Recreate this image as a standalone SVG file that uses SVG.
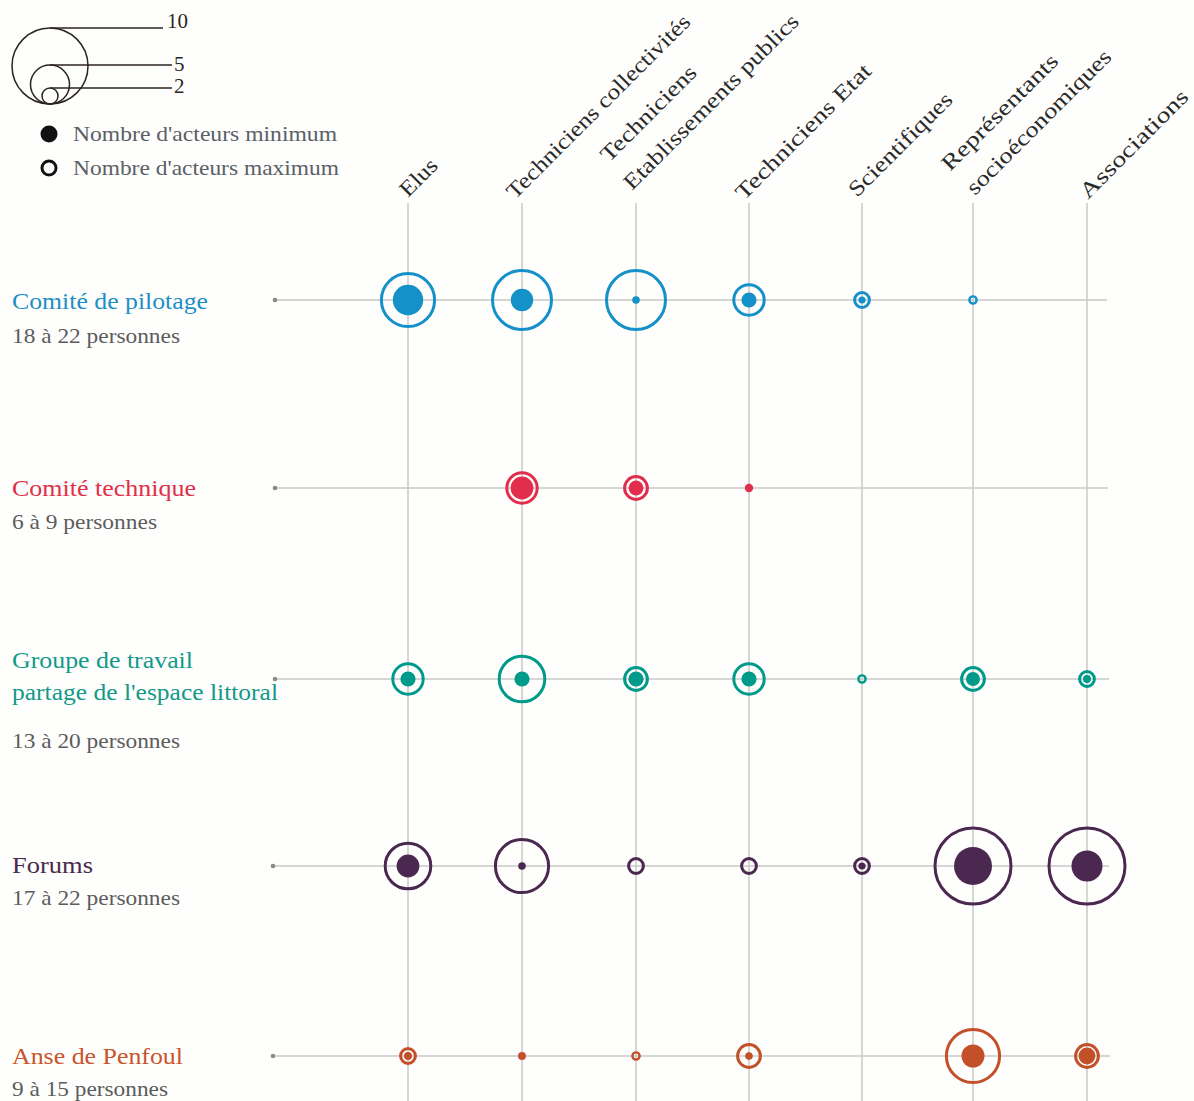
<svg xmlns="http://www.w3.org/2000/svg" width="1194" height="1101" viewBox="0 0 1194 1101">
<style>
text{font-family:"Liberation Serif","DejaVu Serif",serif;}
.hdr{font-size:22px;fill:#2a2a2a;}
.lg{font-size:21px;fill:#5a6066;}
.num{font-size:21px;fill:#2b2520;}
.ttl{font-size:23px;}
.sub{font-size:21px;fill:#5c5c5c;}
.grid line{stroke:#c9c9c9;stroke-width:1.5;}
.tick{fill:#8a8a8a;}
.ring{fill:none;stroke-width:3;}
.thin{fill:none;stroke-width:2.4;}
.blue{stroke:#1591c9;fill:#1591c9;} .blue .ring,.blue .thin{fill:none;}
.red{stroke:#e32d4d;fill:#e32d4d;} .red .ring,.red .thin{fill:none;}
.teal{stroke:#009a8a;fill:#009a8a;} .teal .ring,.teal .thin{fill:none;}
.purple{stroke:#4b2850;fill:#4b2850;} .purple .ring,.purple .thin{fill:none;}
.orange{stroke:#c4502a;fill:#c4502a;} .orange .ring,.orange .thin{fill:none;}
.dot{stroke:none;}
</style>
<rect width="1194" height="1101" fill="#fefefc"/>

<g id="legend">
  <g fill="none" stroke="#2b2520" stroke-width="1.5">
    <circle cx="50" cy="66" r="38"/>
    <circle cx="50" cy="84.5" r="19.5"/>
    <circle cx="50" cy="96" r="8"/>
    <line x1="50" y1="28" x2="163" y2="28"/>
    <line x1="50" y1="65" x2="172" y2="65"/>
    <line x1="50" y1="88" x2="172" y2="88"/>
  </g>
  <text class="num" x="167" y="28">10</text>
  <text class="num" x="174" y="71">5</text>
  <text class="num" x="174" y="93">2</text>
  <circle cx="49" cy="134" r="8.5" fill="#111"/>
  <circle cx="49" cy="168" r="7" fill="none" stroke="#111" stroke-width="3"/>
  <text class="lg" x="73" y="141" textLength="264" lengthAdjust="spacingAndGlyphs">Nombre d'acteurs minimum</text>
  <text class="lg" x="73" y="175" textLength="266" lengthAdjust="spacingAndGlyphs">Nombre d'acteurs maximum</text>
</g>

<g id="headers" class="hdr">
  <text id="h-elus" x="408" y="198" transform="rotate(-45 408 198)" textLength="44" lengthAdjust="spacingAndGlyphs">Elus</text>
  <text id="h-techcoll" x="515" y="200" transform="rotate(-45 515 200)" textLength="250" lengthAdjust="spacingAndGlyphs">Techniciens collectivités</text>
  <g id="h-techep">
    <text x="609" y="163" transform="rotate(-45 609 163)" textLength="126" lengthAdjust="spacingAndGlyphs">Techniciens</text>
    <text x="632" y="191" transform="rotate(-45 632 191)" textLength="238" lengthAdjust="spacingAndGlyphs">Etablissements publics</text>
  </g>
  <text id="h-techetat" x="744" y="201" transform="rotate(-45 744 201)" textLength="182" lengthAdjust="spacingAndGlyphs">Techniciens Etat</text>
  <text id="h-sci" x="857" y="198" transform="rotate(-45 857 198)" textLength="137" lengthAdjust="spacingAndGlyphs">Scientifiques</text>
  <g id="h-rep">
    <text x="950" y="172" transform="rotate(-45 950 172)" textLength="155" lengthAdjust="spacingAndGlyphs">Représentants</text>
    <text x="975" y="196" transform="rotate(-45 975 196)" textLength="195" lengthAdjust="spacingAndGlyphs">socioéconomiques</text>
  </g>
  <text id="h-assoc" x="1088" y="200" transform="rotate(-45 1088 200)" textLength="144" lengthAdjust="spacingAndGlyphs">Associations</text>
</g>

<g id="connectors" class="grid">
  <line x1="408" y1="203" x2="408" y2="1101"/>
  <line x1="522" y1="203" x2="522" y2="1101"/>
  <line x1="636" y1="203" x2="636" y2="1101"/>
  <line x1="749" y1="203" x2="749" y2="1101"/>
  <line x1="862" y1="203" x2="862" y2="1101"/>
  <line x1="973" y1="203" x2="973" y2="1101"/>
  <line x1="1087" y1="203" x2="1087" y2="1101"/>
  <line x1="275" y1="300" x2="1107" y2="300"/>
  <line x1="275" y1="488" x2="1108" y2="488"/>
  <line x1="275" y1="679" x2="1109" y2="679"/>
  <line x1="273" y1="866" x2="1109" y2="866"/>
  <line x1="273" y1="1056" x2="1110" y2="1056"/>
  <g class="tick">
    <circle cx="275" cy="300" r="2.3"/>
    <circle cx="275" cy="488" r="2.3"/>
    <circle cx="275" cy="679" r="2.3"/>
    <circle cx="273" cy="866" r="2.3"/>
    <circle cx="273" cy="1056" r="2.3"/>
  </g>
</g>

<g id="row-pilotage" class="blue">
  <text class="ttl dot" x="12" y="309" fill="#1d8fc6" textLength="196" lengthAdjust="spacingAndGlyphs">Comité de pilotage</text>
  <text class="sub dot" x="12" y="343" textLength="168" lengthAdjust="spacingAndGlyphs">18 à 22 personnes</text>
  <circle class="ring" cx="408" cy="300" r="26.6"/><circle class="dot" cx="408" cy="300" r="15.2"/>
  <circle class="ring" cx="522" cy="300" r="29.5"/><circle class="dot" cx="522" cy="300" r="11.2"/>
  <circle class="ring" cx="636" cy="300" r="29.5"/><circle class="dot" cx="636" cy="300" r="3.8"/>
  <circle class="ring" cx="749" cy="300" r="15.2"/><circle class="dot" cx="749" cy="300" r="7.6"/>
  <circle class="ring" cx="862" cy="300" r="7.4"/><circle class="dot" cx="862" cy="300" r="3.6"/>
  <circle class="thin" cx="973" cy="300" r="3.6"/>
</g>

<g id="row-technique" class="red">
  <text class="ttl dot" x="12" y="496" fill="#e03048" textLength="184" lengthAdjust="spacingAndGlyphs">Comité technique</text>
  <text class="sub dot" x="12" y="529" textLength="145" lengthAdjust="spacingAndGlyphs">6 à 9 personnes</text>
  <circle class="ring" cx="522" cy="488" r="15.2"/><circle class="dot" cx="522" cy="488" r="11.4"/>
  <circle class="ring" cx="636" cy="488" r="11.4"/><circle class="dot" cx="636" cy="488" r="7.4"/>
  <circle class="dot" cx="749" cy="488" r="4.2"/>
</g>

<g id="row-groupe" class="teal">
  <text class="ttl dot" x="12" y="668" fill="#12998a" textLength="181" lengthAdjust="spacingAndGlyphs">Groupe de travail</text>
  <text class="ttl dot" x="12" y="700" fill="#12998a" textLength="266" lengthAdjust="spacingAndGlyphs">partage de l'espace littoral</text>
  <text class="sub dot" x="12" y="748" textLength="168" lengthAdjust="spacingAndGlyphs">13 à 20 personnes</text>
  <circle class="ring" cx="408" cy="679" r="15.2"/><circle class="dot" cx="408" cy="679" r="7.6"/>
  <circle class="ring" cx="522" cy="679" r="22.8"/><circle class="dot" cx="522" cy="679" r="7.6"/>
  <circle class="ring" cx="636" cy="679" r="11.4"/><circle class="dot" cx="636" cy="679" r="7.6"/>
  <circle class="ring" cx="749" cy="679" r="15.2"/><circle class="dot" cx="749" cy="679" r="7.6"/>
  <circle class="thin" cx="862" cy="679" r="3.6"/>
  <circle class="ring" cx="973" cy="679" r="11.4"/><circle class="dot" cx="973" cy="679" r="7"/>
  <circle class="ring" cx="1087" cy="679" r="7.4"/><circle class="dot" cx="1087" cy="679" r="4"/>
</g>

<g id="row-forums" class="purple">
  <text class="ttl dot" x="12" y="873" fill="#4a2a4c" textLength="81" lengthAdjust="spacingAndGlyphs">Forums</text>
  <text class="sub dot" x="12" y="905" textLength="168" lengthAdjust="spacingAndGlyphs">17 à 22 personnes</text>
  <circle class="ring" cx="408" cy="866" r="22.8"/><circle class="dot" cx="408" cy="866" r="11.4"/>
  <circle class="ring" cx="522" cy="866" r="26.6"/><circle class="dot" cx="522" cy="866" r="3.8"/>
  <circle class="ring" cx="636" cy="866" r="7.4"/>
  <circle class="ring" cx="749" cy="866" r="7.4"/>
  <circle class="ring" cx="862" cy="866" r="7.4"/><circle class="dot" cx="862" cy="866" r="3.6"/>
  <circle class="ring" cx="973" cy="866" r="38"/><circle class="dot" cx="973" cy="866" r="19"/>
  <circle class="ring" cx="1087" cy="866" r="38"/><circle class="dot" cx="1087" cy="866" r="15.5"/>
</g>

<g id="row-penfoul" class="orange">
  <text class="ttl dot" x="12" y="1064" fill="#c8552b" textLength="171" lengthAdjust="spacingAndGlyphs">Anse de Penfoul</text>
  <text class="sub dot" x="12" y="1096" textLength="156" lengthAdjust="spacingAndGlyphs">9 à 15 personnes</text>
  <circle class="ring" cx="408" cy="1056" r="7.4"/><circle class="dot" cx="408" cy="1056" r="4"/>
  <circle class="dot" cx="522" cy="1056" r="4"/>
  <circle class="thin" cx="636" cy="1056" r="3.6"/>
  <circle class="ring" cx="749" cy="1056" r="11.4"/><circle class="dot" cx="749" cy="1056" r="3.8"/>
  <circle class="ring" cx="973" cy="1056" r="26.6"/><circle class="dot" cx="973" cy="1056" r="11.5"/>
  <circle class="ring" cx="1087" cy="1056" r="11.4"/><circle class="dot" cx="1087" cy="1056" r="8.4"/>
</g>
</svg>
